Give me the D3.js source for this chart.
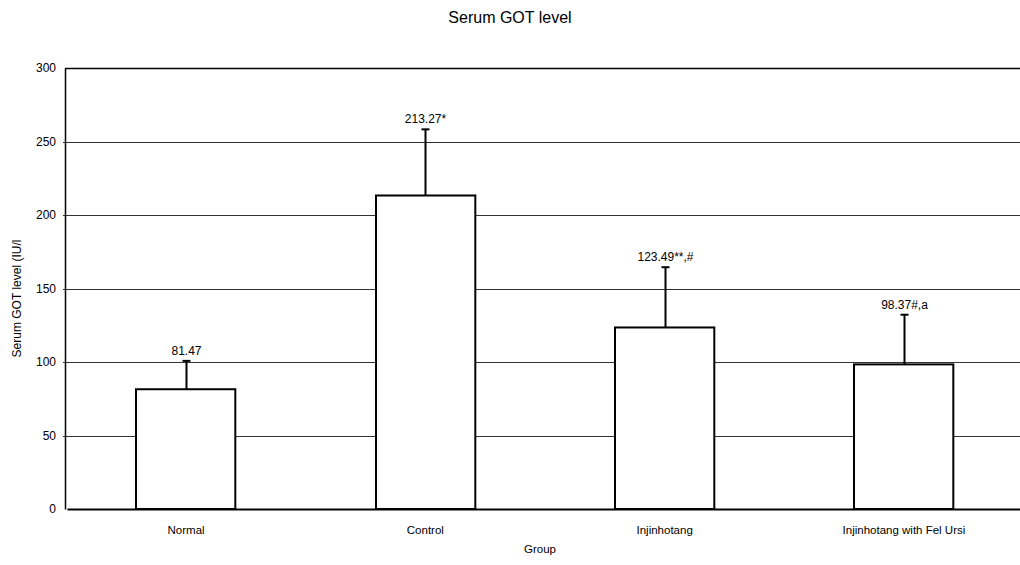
<!DOCTYPE html>
<html>
<head>
<meta charset="utf-8">
<script src="https://cdn.jsdelivr.net/npm/d3@7"></script>
<style>
  html, body { margin: 0; padding: 0; background: #fff; }
  svg { display: block; font-family: "Liberation Sans", Arial, sans-serif; }
</style>
</head>
<body>
<svg id="chart" width="1020" height="565"></svg>
<script>
// Serum GOT level per group (mean, SD and significance marks)
const groups = ["Normal", "Control", "Injinhotang", "Injinhotang with Fel Ursi"];
const means = [81.47, 213.27, 123.49, 98.37];
const sds = [19.3, 45.0, 41.0, 33.8];
const marks = ["", "*", "**,#", "#,a"];
const yTicks = [0, 50, 100, 150, 200, 250, 300];

const svg = d3.select("#chart");
const margin = { left: 65, right: -3, top: 68, bottom: 56 };
const W = 1020, H = 565;

const x = d3.scaleBand()
  .domain(groups)
  .range([margin.left + 2, W - margin.right])
  .paddingInner(0.585)
  .paddingOuter(0.29);

const y = d3.scaleLinear()
  .domain([0, 300])
  .range([H - margin.bottom, margin.top]);

// horizontal gridlines
svg.append("g")
  .selectAll("line")
  .data(yTicks.filter(t => t > 0 && t < 300))
  .join("line")
  .attr("x1", margin.left - 2)
  .attr("x2", W)
  .attr("y1", d => Math.round(y(d)) + 0.5)
  .attr("y2", d => Math.round(y(d)) + 0.5)
  .attr("stroke", "#333")
  .attr("stroke-width", 1);

// top border
svg.append("line")
  .attr("x1", margin.left).attr("x2", W)
  .attr("y1", Math.round(y(300)) + 0.5).attr("y2", Math.round(y(300)) + 0.5)
  .attr("stroke", "#000").attr("stroke-width", 1.5);

// y axis
const yAxis = d3.axisLeft(y).tickValues(yTicks).tickSize(0).tickPadding(9);
const gy = svg.append("g")
  .attr("transform", `translate(${margin.left},0)`)
  .call(yAxis);
gy.select(".domain").attr("stroke", "#000").attr("stroke-width", 1.5);
gy.selectAll("text")
  .attr("font-size", 12)
  .attr("fill", "#000")
  .attr("font-family", "Liberation Sans, Arial, sans-serif");

// error bars (drawn before bars so the bar outline covers the stem base)
const eb = svg.append("g");
groups.forEach((g, i) => {
  const cx = Math.round(x(g) + x.bandwidth() / 2) + 0.5;
  const top = y(means[i] + sds[i]);
  eb.append("line")
    .attr("x1", cx).attr("x2", cx)
    .attr("y1", y(means[i])).attr("y2", top)
    .attr("stroke", "#000").attr("stroke-width", 2);
  eb.append("line")
    .attr("x1", cx - 4).attr("x2", cx + 4)
    .attr("y1", top).attr("y2", top)
    .attr("stroke", "#000").attr("stroke-width", 2);
  eb.append("text")
    .attr("x", cx)
    .attr("y", top - 6)
    .attr("text-anchor", "middle")
    .attr("font-size", 12)
    .attr("fill", "#000")
    .text(means[i].toFixed(2) + marks[i]);
});

// bars
svg.append("g")
  .selectAll("rect")
  .data(groups)
  .join("rect")
  .attr("x", d => Math.round(x(d)))
  .attr("y", (d, i) => y(means[i]))
  .attr("width", x.bandwidth())
  .attr("height", (d, i) => y(0) - y(means[i]))
  .attr("fill", "#fff")
  .attr("stroke", "#000")
  .attr("stroke-width", 2);

// x axis
const xAxis = d3.axisBottom(x).tickSize(0).tickPadding(17);
const gx = svg.append("g")
  .attr("transform", `translate(0,${y(0)})`)
  .call(xAxis);
gx.select(".domain").attr("stroke", "#000").attr("stroke-width", 2);
gx.selectAll("text")
  .attr("font-size", 11.5)
  .attr("fill", "#000")
  .attr("font-family", "Liberation Sans, Arial, sans-serif");

// titles
svg.append("text")
  .attr("x", 510).attr("y", 23)
  .attr("text-anchor", "middle")
  .attr("font-size", 16)
  .attr("fill", "#000")
  .text("Serum GOT  level");

svg.append("text")
  .attr("x", 540).attr("y", 553)
  .attr("text-anchor", "middle")
  .attr("font-size", 11.5)
  .attr("fill", "#000")
  .text("Group");

svg.append("text")
  .attr("transform", `translate(21,${(y(0) + y(300)) / 2 + 10}) rotate(-90)`)
  .attr("text-anchor", "middle")
  .attr("font-size", 12)
  .attr("fill", "#000")
  .text("Serum GOT level (IU/l");
</script>
</body>
</html>
